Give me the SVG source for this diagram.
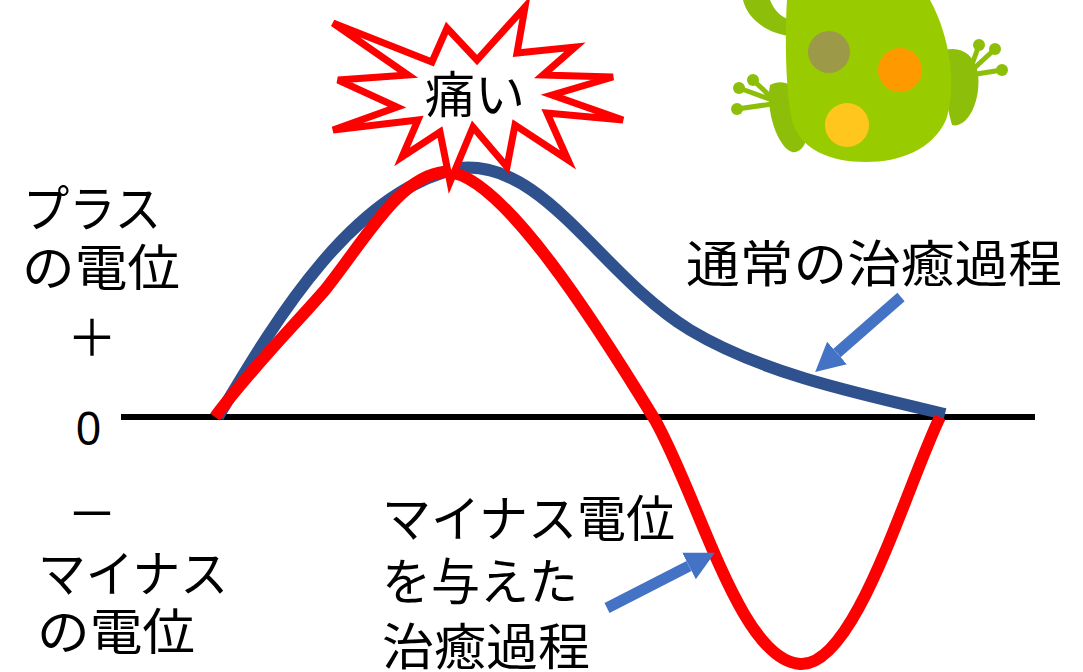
<svg xmlns="http://www.w3.org/2000/svg" width="1083" height="672" viewBox="0 0 1083 672">
  <style>
    .lbl { font-family: "Noto Sans CJK JP", "Liberation Sans", sans-serif; font-size: 50px; fill: #000; }
    .num { font-family: "Liberation Sans", sans-serif; font-size: 48px; fill: #000; }
    .pointer { stroke: #4472C4; stroke-width: 11; fill: none; }
    .limb { fill: #8DBF0A; }
  </style>
  <defs>
    <marker id="head" markerUnits="userSpaceOnUse" markerWidth="32" markerHeight="32" refX="0" refY="15" orient="auto">
      <path d="M0,0 L29,15 L0,30 Z" fill="#4472C4"/>
    </marker>
  </defs>
  <rect width="1083" height="672" fill="#fff"/>

  <!-- frog mascot -->
  <g id="frog">
    <path class="limb" d="M743,0 L770,0 C775,12 782,18 792,20 L792,36 C768,34 748,20 743,0 Z"/>
    <path class="limb" d="M770,85 C790,75 805,95 808,120 C810,140 802,154 792,152 C778,148 765,110 770,85 Z"/>
    <g class="limb">
      <circle cx="739" cy="88" r="6"/><circle cx="753" cy="80" r="6"/><circle cx="737" cy="109" r="6"/>
      <path d="M739,88 L772,100 M753,80 L772,98 M737,109 L772,104" stroke="#8DBF0A" stroke-width="5"/>
    </g>
    <path class="limb" d="M945,50 C965,45 982,60 978,90 C975,115 962,128 952,125 C945,100 942,70 945,50 Z"/>
    <g class="limb">
      <circle cx="979" cy="45" r="6"/><circle cx="995" cy="49" r="6"/><circle cx="1002" cy="70" r="6"/>
      <path d="M979,45 L970,70 M995,49 L970,72 M1002,70 L970,75" stroke="#8DBF0A" stroke-width="5"/>
    </g>
    <path d="M787,0 L930,0 C952,40 956,90 946,120 C932,150 900,162 866,162 C830,162 800,150 792,120 C785,90 785,30 787,0 Z" fill="#99CC00"/>
    <circle cx="829" cy="52" r="21" fill="#9C9A48"/>
    <circle cx="900" cy="70" r="22" fill="#FF9900"/>
    <circle cx="847" cy="125" r="22" fill="#FFC61E"/>
  </g>

  <!-- zero axis -->
  <g id="axis">
    <line x1="121" y1="417" x2="1035" y2="417" stroke="#000" stroke-width="6"/>
  </g>

  <!-- potential curves -->
  <g id="curves" fill="none" stroke-linecap="butt">
    <path id="normal-curve" d="M218,417 C270,330 350,190 460,168 C545,160 600,275 690,330 C760,372 850,392 945,414" stroke="#2F528F" stroke-width="12"/>
    <path id="treated-curve" d="M215,417 C250,370 290,330 325,290 C365,240 400,175 445,172 C500,170 600,330 655,420 C700,500 740,660 800,664 C855,668 905,490 940,417" stroke="#FF0000" stroke-width="12"/>
  </g>

  <!-- pain burst -->
  <g id="pain">
    <polygon points="333,23 432,62 447,28 477,60 525,7 517,53 575,47 543,75 613,77 552,95 623,120 547,113 568,160 515,125 507,167 473,127 450,182 440,132 402,157 418,120 333,130 397,107 338,80 408,75" fill="#fff" stroke="#FF0000" stroke-width="7" stroke-linejoin="miter"/>
    <text class="lbl" x="475" y="113" text-anchor="middle" font-size="48">痛い</text>
  </g>

  <!-- axis labels -->
  <g id="plus-label">
    <text class="lbl" x="23" y="227" textLength="138" lengthAdjust="spacingAndGlyphs">プラス</text>
    <text class="lbl" x="22" y="286" textLength="158" lengthAdjust="spacingAndGlyphs">の電位</text>
    <text class="lbl" x="92" y="356" text-anchor="middle">＋</text>
  </g>
  <g id="zero-label">
    <text class="num" x="76" y="445" textLength="25" lengthAdjust="spacingAndGlyphs">0</text>
  </g>
  <g id="minus-label">
    <text class="lbl" x="92" y="532" text-anchor="middle">－</text>
    <text class="lbl" x="38" y="592" textLength="190" lengthAdjust="spacingAndGlyphs">マイナス</text>
    <text class="lbl" x="37" y="650" textLength="158" lengthAdjust="spacingAndGlyphs">の電位</text>
  </g>

  <!-- curve captions -->
  <g id="normal-caption">
    <text class="lbl" x="686" y="282" font-size="52" textLength="376" lengthAdjust="spacingAndGlyphs">通常の治癒過程</text>
  </g>
  <g id="treated-caption">
    <text class="lbl" x="382" y="537" font-size="48" textLength="293" lengthAdjust="spacingAndGlyphs">マイナス電位</text>
    <text class="lbl" x="382" y="600" font-size="48" textLength="196" lengthAdjust="spacingAndGlyphs">を与えた</text>
    <text class="lbl" x="382" y="665" font-size="48" textLength="208" lengthAdjust="spacingAndGlyphs">治癒過程</text>
  </g>

  <!-- pointers -->
  <g id="connectors">
    <line class="pointer" x1="901" y1="297" x2="837" y2="353" marker-end="url(#head)"/>
    <line class="pointer" x1="607" y1="608" x2="689" y2="566" marker-end="url(#head)"/>
  </g>
</svg>
